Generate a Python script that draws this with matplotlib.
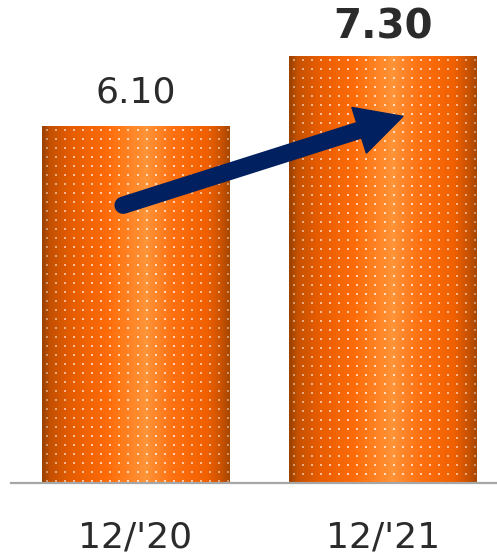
import numpy as np
import matplotlib
matplotlib.use('Agg')
import matplotlib.pyplot as plt
from matplotlib.colors import LinearSegmentedColormap
from matplotlib.patches import Polygon

periods = ["12/'20", "12/'21"]
values = [6.10, 7.30]
value_labels = ['6.10', '7.30']

# cylinder-style shading across each bar
shade = LinearSegmentedColormap.from_list('shade', [
    (0.00, '#9a4200'), (0.04, '#c45000'), (0.15, '#e65c00'),
    (0.35, '#ff6c08'), (0.55, '#ff9438'), (0.70, '#ff7010'),
    (0.88, '#f06000'), (0.96, '#c85200'), (1.00, '#a84800')])

fig = plt.figure(figsize=(4.97, 5.55), dpi=100)
ax = fig.add_axes([11 / 497, 72 / 555, 486 / 497, 483 / 555])
x = np.arange(len(values))
bars = ax.bar(x, values, width=0.756, color='none', zorder=2)
ax.set_xlim(-0.503, 1.461)
ax.set_ylim(0, 8.26)

fig.canvas.draw()
for rect in bars:
    x0, y0 = rect.get_x(), rect.get_y()
    x1, y1 = x0 + rect.get_width(), y0 + rect.get_height()
    (px0, py0), (px1, py1) = ax.transData.transform([(x0, y0), (x1, y1)])
    w, h = int(round(px1 - px0)), int(round(py1 - py0))
    u = np.linspace(0, 1, w)
    img = np.tile(shade(u)[None, :, :], (h, 1, 1))
    # small light dot texture
    dots = np.zeros((h, w), bool)
    for r in range(3, h, 9):
        for c in range(4, w, 9):
            dots[r:r + 2, c:c + 2] = True
    edge = 0.35 + 0.35 * np.sin(np.pi * u) ** 0.5
    a = dots * edge[None, :]
    img[..., :3] = img[..., :3] * (1 - a[..., None]) + a[..., None]
    ax.imshow(img, extent=(x0, x1, y0, y1), aspect='auto',
              interpolation='nearest', origin='upper', zorder=2)
ax.set_xlim(-0.503, 1.461)
ax.set_ylim(0, 8.26)

# value labels above the bars
ax.annotate(value_labels[0], (x[0], values[0]), xytext=(0, 17), textcoords='offset points',
            ha='center', va='baseline', fontsize=26, color='#2b2b2b')
ax.annotate(value_labels[1], (x[1], values[1]), xytext=(0, 13), textcoords='offset points',
            ha='center', va='baseline', fontsize=29, fontweight='bold', color='#2b2b2b')

# growth arrow
tail = ax.transData.transform((-0.05, 4.75))
tip = ax.transData.transform((1.081, 6.27))
d = (tip - tail) / np.linalg.norm(tip - tail)
n = np.array([-d[1], d[0]])
head_len, head_w = 46, 48
base = tip - d * head_len
navy = '#00205f'
ax.plot(*ax.transData.inverted().transform([tail, base + d * 2]).T, color=navy,
        lw=12.5, solid_capstyle='round', zorder=5)
head = [tip, base + n * head_w / 2, base - n * head_w / 2]
ax.add_patch(Polygon(ax.transData.inverted().transform(head), closed=True,
                     color=navy, zorder=6))

for s in ['top', 'right', 'left']:
    ax.spines[s].set_visible(False)
ax.spines['bottom'].set_color('#a6a6a6')
ax.spines['bottom'].set_linewidth(1.6)
ax.set_yticks([])
ax.set_xticks(x, periods, fontsize=26, color='#2b2b2b')
ax.tick_params(axis='x', length=0, pad=27)

fig.savefig('out.png', dpi=100)
